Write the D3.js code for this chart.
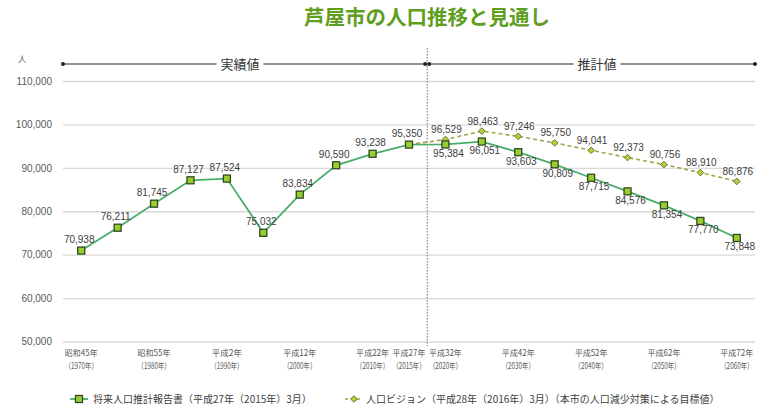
<!DOCTYPE html>
<html><head><meta charset="utf-8">
<script src="https://cdn.jsdelivr.net/npm/d3@7"></script>
<style>
html,body{margin:0;padding:0;background:#fff;}
svg{display:block;}
</style></head>
<body>
<svg id="chart" width="766" height="406"></svg>
<script>
const years = [1970,1975,1980,1985,1990,1995,2000,2005,2010,2015,2020,2025,2030,2035,2040,2045,2050,2055,2060];
const seriesReport = [70938,76211,81745,87127,87524,75032,83834,90590,93238,95350,95384,96051,93603,90809,87715,84576,81354,77770,73848];
const visionYears = [2015,2020,2025,2030,2035,2040,2045,2050,2055,2060];
const seriesVision = [95350,96529,98463,97246,95750,94041,92373,90756,88910,86876];
const yTicks = [50000,60000,70000,80000,90000,100000,110000];
const tickYears = [1970,1980,1990,2000,2010,2015,2020,2030,2040,2050,2060];
const tickEra = ["昭和45年","昭和55年","平成2年","平成12年","平成22年","平成27年","平成32年","平成42年","平成52年","平成62年","平成72年"];
const tickWest = ["（1970年）","（1980年）","（1990年）","（2000年）","（2010年）","（2015年）","（2020年）","（2030年）","（2040年）","（2050年）","（2060年）"];
const chartTitle = "芦屋市の人口推移と見通し";
const legendNames = ["将来人口推計報告書（平成27年（2015年）3月）","人口ビジョン（平成28年（2016年）3月）（本市の人口減少対策による目標値）"];
const periodLabels = ["実績値","推計値"];
const yUnit = "人";

const svg = d3.select("#chart");
const jp = "'Noto Sans CJK JP','Noto Sans',sans-serif";
const num = "'Liberation Sans','Arial',sans-serif";

const pL = 63, pR = 755, pT = 81, pB = 341.5;
const x = d3.scalePoint().domain(years).range([pL, pR]).padding(0.5);
const y = d3.scaleLinear().domain([50000,110000]).range([pB, pT]);
const fmt = d3.format(",");

// title
svg.append("text").attr("x", 427).attr("y", 25).attr("text-anchor","middle")
  .attr("font-family", jp).attr("font-weight","bold").attr("font-size", 20.5)
  .attr("fill","#5f9e1e").text(chartTitle);

// gridlines + y labels
const yAxis = d3.axisLeft(y).tickValues(yTicks).tickFormat(fmt).tickSize(-(pR-pL)).tickPadding(11);
const ga = svg.append("g").attr("transform",`translate(${pL},0)`).call(yAxis);
ga.select(".domain").remove();
ga.selectAll(".tick line").attr("stroke","#d9d9d9").attr("stroke-width",1.3);
ga.selectAll(".tick text").attr("font-family", num).attr("font-size",10).attr("fill","#595959");

// unit
svg.append("text").attr("x",18).attr("y",62).attr("font-family",jp).attr("font-size",8.5).attr("fill","#595959").text(yUnit);

// divider x between 2015 and 2020
const divX = (x(2015)+x(2020))/2;
svg.append("line").attr("x1",divX).attr("x2",divX).attr("y1",48).attr("y2",346)
  .attr("stroke","#707070").attr("stroke-width",1).attr("stroke-dasharray","1.5,1.5");

// period arrows
const arrowY = 64;
const periods = [
  {label: periodLabels[0], x1: pL, x2: divX-2, cx: 240},
  {label: periodLabels[1], x1: divX+2, x2: pR, cx: 597}
];
periods.forEach(p=>{
  const g = svg.append("g");
  g.append("line").attr("x1",p.x1).attr("x2",p.x2).attr("y1",arrowY).attr("y2",arrowY)
    .attr("stroke","#6b6b6b").attr("stroke-width",1.4);
  [p.x1,p.x2].forEach(ex=>{
    g.append("circle").attr("cx",ex).attr("cy",arrowY).attr("r",2).attr("fill","#222");
  });
  const bgRect = g.append("rect").attr("fill","#fff");
  const t = g.append("text").attr("x",p.cx).attr("y",arrowY).attr("dy","0.36em").attr("text-anchor","middle")
    .attr("font-family",jp).attr("font-size",13).attr("fill","#333").text(p.label);
  const bb = t.node().getBBox();
  bgRect.attr("x",bb.x-4).attr("y",bb.y).attr("width",bb.width+8).attr("height",bb.height);
});

// x labels (two lines, horizontally condensed to fit the category step)
const xl = svg.append("g");
const fitW = 33;
tickYears.forEach((yr,i)=>{
  [[tickEra[i], 356], [tickWest[i], 368.5]].forEach(([s, yy])=>{
    const t = xl.append("text").attr("text-anchor","middle")
      .attr("font-family",jp).attr("font-size",8.5).attr("fill","#595959").text(s);
    const w = t.node().getComputedTextLength();
    const sx = Math.min(1, fitW / w);
    t.attr("transform", `translate(${x(yr)},${yy}) scale(${sx},1)`);
  });
});

// lines
const reportColor = "#4aad6a", visionColor = "#a3a447";
const sqFill = "#9acd32", sqStroke = "#2e4a1e";
const dmFill = "#b6cf3c", dmStroke = "#6f6e2a";
const dReport = years.map((yr,i)=>({yr, v: seriesReport[i], i}));
const dVision = visionYears.map((yr,i)=>({yr, v: seriesVision[i], i}));
const line = d3.line().x(d=>x(d.yr)).y(d=>y(d.v));

svg.append("path").datum(dVision).attr("d",line).attr("fill","none")
  .attr("stroke",visionColor).attr("stroke-width",1.6).attr("stroke-dasharray","4,3");
svg.append("path").datum(dReport).attr("d",line).attr("fill","none")
  .attr("stroke",reportColor).attr("stroke-width",1.8);

// vision markers (small diamonds)
const diamondPath = "M0,-3.3L3.3,0L0,3.3L-3.3,0Z";
svg.append("g").selectAll("path").data(dVision.slice(1)).join("path")
  .attr("d",diamondPath).attr("transform",d=>`translate(${x(d.yr)},${y(d.v)})`)
  .attr("fill",dmFill).attr("stroke",dmStroke).attr("stroke-width",1);

// report markers (squares)
svg.append("g").selectAll("rect").data(dReport).join("rect")
  .attr("x",d=>x(d.yr)-3.5).attr("y",d=>y(d.v)-3.5).attr("width",7).attr("height",7)
  .attr("fill",sqFill).attr("stroke",sqStroke).attr("stroke-width",1.3);

// data labels
const lab = svg.append("g").attr("font-family",num).attr("font-size",10).attr("fill","#404040").attr("text-anchor","middle");
dReport.forEach(d=>{
  const below = d.yr > 2015;
  lab.append("text").attr("x", x(d.yr) + (below ? 3 : -2)).attr("y", y(d.v) + (below ? 9 : -11))
    .attr("dy","0.35em").text(fmt(d.v));
});
dVision.slice(1).forEach(d=>{
  lab.append("text").attr("x", x(d.yr) + 1).attr("y", y(d.v) - 10)
    .attr("dy","0.35em").text(fmt(d.v));
});

// legend
const lg = svg.append("g");
const ly = 399;
lg.append("line").attr("x1",70).attr("x2",88).attr("y1",ly).attr("y2",ly).attr("stroke",reportColor).attr("stroke-width",1.8);
lg.append("rect").attr("x",79-3.5).attr("y",ly-3.5).attr("width",7).attr("height",7).attr("fill",sqFill).attr("stroke",sqStroke).attr("stroke-width",1.3);
lg.append("text").attr("x",93).attr("y",ly).attr("dy","0.35em").attr("font-family",jp).attr("font-size",10).attr("fill","#404040").text(legendNames[0]);
lg.append("line").attr("x1",345).attr("x2",363).attr("y1",ly).attr("y2",ly).attr("stroke",visionColor).attr("stroke-width",1.6).attr("stroke-dasharray","3,3");
lg.append("path").attr("d",diamondPath).attr("transform",`translate(354,${ly})`).attr("fill",dmFill).attr("stroke",dmStroke).attr("stroke-width",1);
lg.append("text").attr("x",366).attr("y",ly).attr("dy","0.35em").attr("font-family",jp).attr("font-size",10).attr("fill","#404040").text(legendNames[1]);
</script>
</body></html>
